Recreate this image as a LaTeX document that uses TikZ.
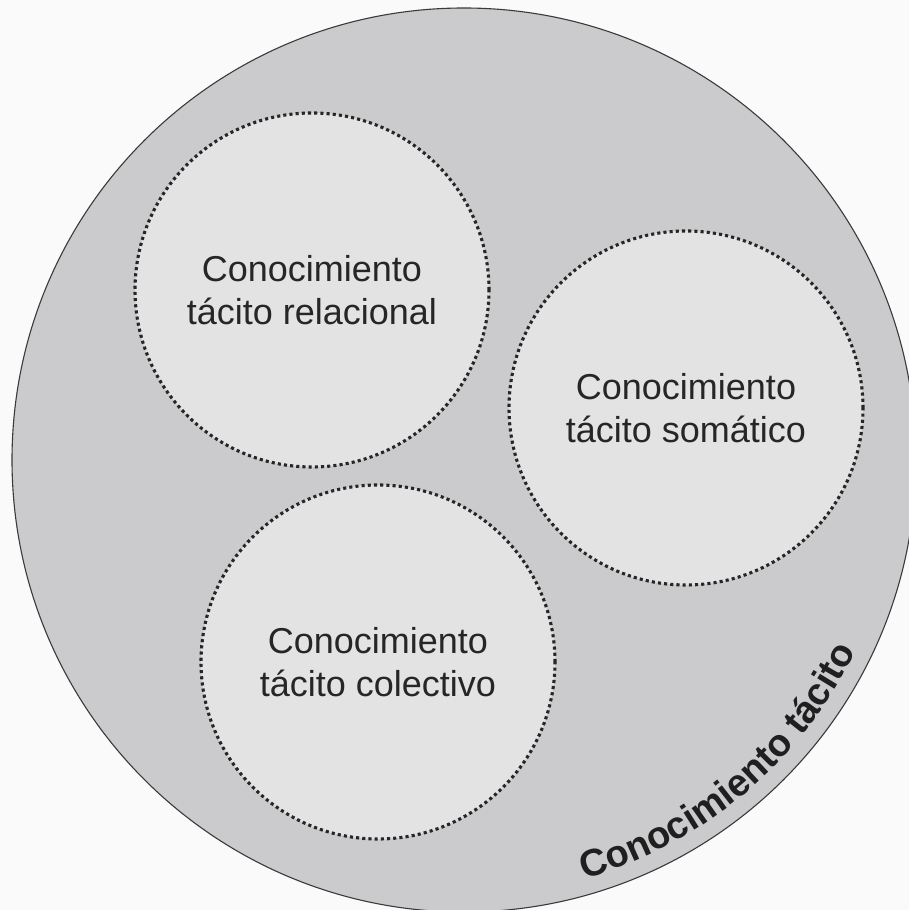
\documentclass[tikz,border=0pt]{standalone}
\usepackage{fontspec}
\setmainfont{Liberation Sans}
\usetikzlibrary{decorations.text}
\definecolor{paper}{HTML}{FAFAFA}
\definecolor{outerfill}{HTML}{CBCBCD}
\definecolor{innerfill}{HTML}{E3E3E3}
\definecolor{rim}{HTML}{3A3A3A}
\definecolor{dots}{HTML}{262626}
\tikzset{
  outer/.style={circle, fill=outerfill, draw=rim, line width=1.1pt, minimum size=904pt, inner sep=0pt},
  kind/.style={circle, fill=innerfill, draw=dots, line width=3.1pt,
    dash pattern=on 3.1pt off 3.1pt, minimum size=354pt, inner sep=0pt,
    align=center, font=\fontsize{36}{43}\selectfont, text=black!85}
}
\begin{document}
\begin{tikzpicture}[x=1pt,y=1pt]
  \useasboundingbox (0,0) rectangle (909,910);
  \fill[paper] (0,0) rectangle (909,910);
  \begin{scope}
    \clip (0,0) rectangle (909,910);
    \node[outer] (tacit) at (464,450) {};
    \node[kind] (rel) at (312,620) {Conocimiento\\tácito relacional};
    \node[kind] (som) at (686,502) {Conocimiento\\tácito somático};
    \node[kind] (col) at (378,248) {Conocimiento\\tácito colectivo};
    % label running along the inside of the outer rim
    \path[decorate, decoration={text along path, text align=center,
        text={|\fontsize{38}{38}\selectfont\bfseries\color{black!88}|Conocimiento tácito}}]
      (tacit.center) ++(-85:436) arc[start angle=-85, end angle=-15, radius=436pt];
  \end{scope}
\end{tikzpicture}
\end{document}
